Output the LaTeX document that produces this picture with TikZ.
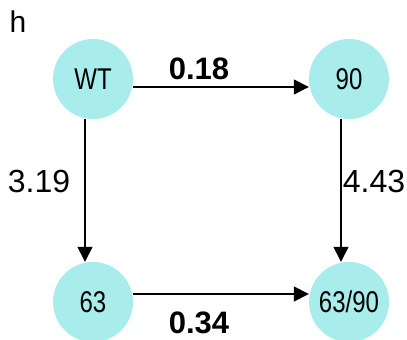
\documentclass[tikz,border=0pt]{standalone}
\usepackage{fontspec}
\setmainfont{Liberation Sans}
\newfontfamily\narrowfont[FakeStretch=0.8]{Liberation Sans}
\usepackage{tikz}
\usetikzlibrary{arrows.meta}
\definecolor{strainfill}{RGB}{168,237,236}

\begin{document}
\begin{tikzpicture}[
    x=1pt, y=1pt,
    strain/.style ={circle, fill=strainfill, minimum size=80pt, inner sep=0pt, font=\fontsize{30}{30}\selectfont\narrowfont},
    rate/.style   ={font=\fontsize{32}{32}\selectfont},
    boldrate/.style={font=\fontsize{31}{31}\selectfont\bfseries},
    arrow/.style  ={-{Triangle[length=15pt,width=15pt]}, line width=1.5pt}
]
\useasboundingbox (0,0) rectangle (407,340);

% panel letter
\node[font=\fontsize{30}{30}\selectfont] (panel) at (18,318) {h};

% strains
\node[strain] (wt)    at (93,261)  {WT};
\node[strain] (n90)   at (349,261) {90};
\node[strain] (n63)   at (93,38)   {63};
\node[strain] (n6390) at (349,38)  {63/90};

% arrows
\draw[arrow] ([yshift=-8pt]wt.east)    -- ([yshift=-8pt]n90.west);
\draw[arrow] ([xshift=-8pt]wt.south)   -- ([xshift=-8pt]n63.north);
\draw[arrow] ([xshift=-8pt]n90.south)  -- ([xshift=-8pt]n6390.north);
\draw[arrow] ([yshift=8pt]n63.east)    -- ([yshift=8pt]n6390.west);

% rates
\node[boldrate] (r18) at (199,271) {0.18};
\node[rate]     (r19) at (39,159)  {3.19};
\node[rate]     (r43) at (374,159) {4.43};
\node[boldrate] (r34) at (199,17)  {0.34};

\end{tikzpicture}
\end{document}
